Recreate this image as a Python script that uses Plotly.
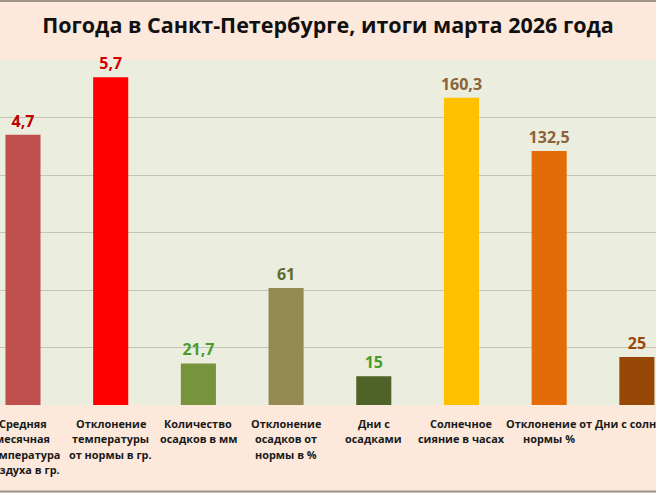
import plotly.graph_objects as go

title = "Погода в Санкт-Петербурге, итоги марта 2026 года"
categories = [
    "Средняя<br>месячная<br>температура<br>воздуха в гр.",
    "Отклонение<br>температуры<br>от нормы в гр.",
    "Количество<br>осадков в мм",
    "Отклонение<br>осадков от<br>нормы в %",
    "Дни с<br>осадками",
    "Солнечное<br>сияние в часах",
    "Отклонение от<br>нормы %",
    "Дни с солнцем",
]
temp_values = [4.7, 5.7]          # drawn on secondary (temperature) scale
other_values = [21.7, 61, 15, 160.3, 132.5, 25]
bar_colors = ["#c0504d", "#ff0000", "#77933c", "#948a54", "#4f6228", "#ffc000", "#e36c09", "#974806"]
label_colors = ["#c00000", "#d40000", "#4a9a30", "#5f6b2a", "#4a9a30", "#8c6239", "#8c6239", "#984807"]

def fmt(v):
    s = f"{v:g}"
    return s.replace(".", ",")

xs = list(range(len(categories)))

fig = go.Figure()
fig.add_trace(go.Bar(
    x=xs[:2], y=temp_values, yaxis="y2", width=0.4,
    marker=dict(color=bar_colors[:2], line=dict(width=0)),
    text=[fmt(v) for v in temp_values], textposition="outside", constraintext="none",
    textfont=dict(color=label_colors[:2], size=16, family="Open Sans", weight="bold"),
    cliponaxis=False, showlegend=False,
))
fig.add_trace(go.Bar(
    x=xs[2:], y=other_values, width=0.4,
    marker=dict(color=bar_colors[2:], line=dict(width=0)),
    text=[fmt(v) for v in other_values], textposition="outside", constraintext="none",
    textfont=dict(color=label_colors[2:], size=16, family="Open Sans", weight="bold"),
    cliponaxis=False, showlegend=False,
))

# category labels as per-line annotations (edge ones are clipped by the page edge, as in the reference)
plot_bottom_px, plot_h = 405, 345
first_line_px, line_step_px = 423, 15.5
annotations = []
for x, t in zip(xs, categories):
    for i, line in enumerate(t.split("<br>")):
        yc = first_line_px + i * line_step_px
        annotations.append(dict(
            x=x, y=-(yc - plot_bottom_px) / plot_h, xref="x", yref="paper", text=line,
            showarrow=False, xanchor="center", yanchor="middle", align="center",
            font=dict(family="Open Sans", size=10.9, color="#1a1a1a", weight="bold")))

fig.update_layout(
    width=656, height=493,
    margin=dict(l=0, r=0, t=60, b=88),
    paper_bgcolor="#fce9dc",
    plot_bgcolor="#ebeedf",
    barmode="overlay",
    title=dict(text=title, x=0.5, xanchor="center", y=0.948, yanchor="middle",
               font=dict(family="Open Sans", size=21.5, color="#111111", weight="bold")),
    xaxis=dict(range=[-0.262, 7.218], showticklabels=False, automargin=False,
               showgrid=False, zeroline=False, showline=False, ticks=""),
    yaxis=dict(range=[0, 180], dtick=30, showticklabels=False, gridcolor="#c8c4b4",
               gridwidth=1, zeroline=False, showline=False, automargin=False),
    yaxis2=dict(range=[0, 6], overlaying="y", showticklabels=False, showgrid=False,
                zeroline=False, showline=False, automargin=False),
    annotations=annotations,
    shapes=[
        dict(type="line", xref="paper", yref="paper", x0=0, x1=1, y0=1.1710, y1=1.1710,
             line=dict(color="#a09488", width=2)),
        dict(type="line", xref="paper", yref="paper", x0=0, x1=1, y0=-0.2507, y1=-0.2507,
             line=dict(color="#a09488", width=2)),
    ],
)

fig.write_html("out.html")
